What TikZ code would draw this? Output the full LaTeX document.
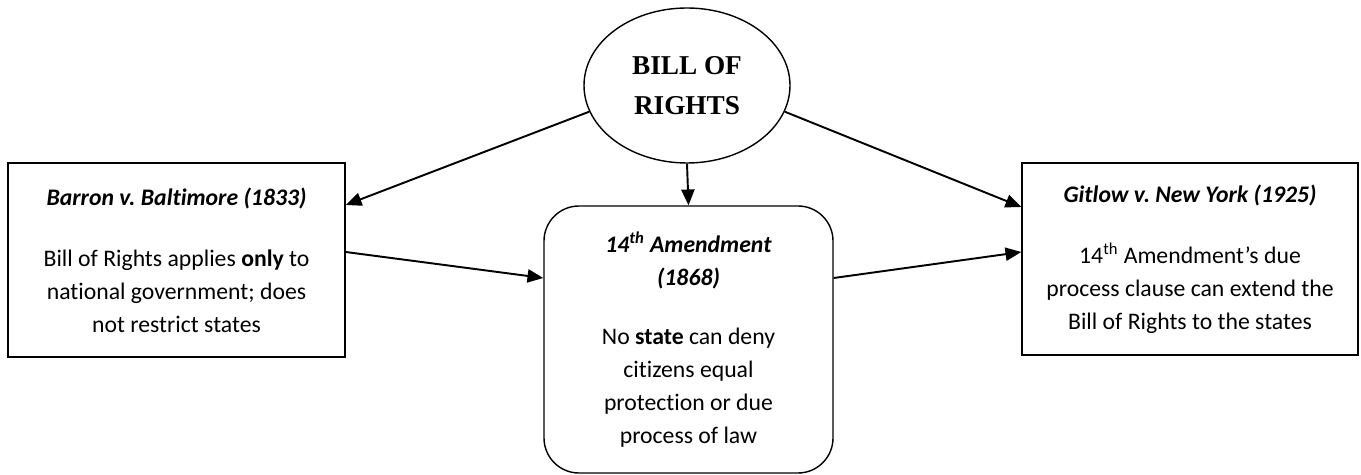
\documentclass[tikz,border=0pt]{standalone}
\usepackage{fontspec}
\setmainfont{Carlito}[Ligatures=NoCommon]
\newfontfamily\billfont{Liberation Serif}
\frenchspacing
\usetikzlibrary{
    shapes.geometric,
    arrows.meta,
    positioning
}

\begin{document}
\begin{tikzpicture}[
        casebox/.style={draw, line width=0.8pt, align=center, font=\fontsize{13.5}{18.7}\selectfont},
        arrow/.style={-{Triangle[length=9pt, width=7.5pt]}, line width=1.1pt}
    ]
        \useasboundingbox (0, 0) rectangle (27.22, 9.5);

        % Source
        \node[draw, ellipse, line width=0.8pt, minimum width=4.12cm, minimum height=3.1cm, align=center,
              font=\billfont\bfseries\fontsize{15.5}{22.7}\selectfont] (bill) at (13.74, 7.79) {BILL OF\\RIGHTS};

        % Cases
        \node[casebox, minimum width=6.74cm, minimum height=3.88cm] (barron) at (3.53, 4.30) {
            \textbf{\textit{Barron v. Baltimore (1833)}}\\[16pt]
            Bill of Rights applies \textbf{only} to\\
            national government; does\\
            not restrict states
        };
        \node[casebox, minimum width=6.72cm, minimum height=3.84cm] (gitlow) at (23.80, 4.32) {
            \textbf{\textit{Gitlow v. New York (1925)}}\\[16pt]
            14\textsuperscript{th} Amendment’s due\\
            process clause can extend the\\
            Bill of Rights to the states
        };

        % Amendment
        \node[casebox, rounded corners=0.7cm, minimum width=5.78cm, minimum height=5.34cm] (amend) at (13.77, 2.71) {
            \textbf{\textit{14\textsuperscript{th} Amendment}}\\
            \textbf{\textit{(1868)}}\\[15pt]
            No \textbf{state} can deny\\
            citizens equal\\
            protection or due\\
            process of law
        };

        % Arrows
        \draw[arrow] (bill.195) -- ([yshift=1.1cm]barron.east);
        \draw[arrow] (bill.south) -- (amend.north);
        \draw[arrow] (bill.-15) -- ([yshift=1.04cm]gitlow.west);
        \draw[arrow] ([yshift=0.16cm]barron.east) -- ([yshift=1.23cm]amend.west);
        \draw[arrow] ([yshift=1.23cm]amend.east) -- ([yshift=0.14cm]gitlow.west);
    \end{tikzpicture}
\end{document}
